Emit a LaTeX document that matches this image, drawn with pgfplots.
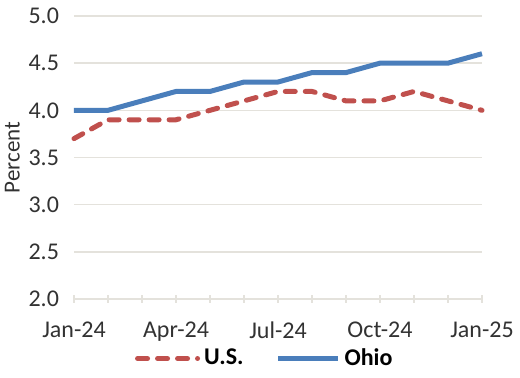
\documentclass[border=0pt]{standalone}
\usepackage{pgfplots}
\pgfplotsset{compat=1.18}
\usepackage{fontspec}
\setmainfont{Carlito}
\definecolor{ohio}{RGB}{74,126,187}
\definecolor{us}{RGB}{192,80,77}
\definecolor{gridc}{RGB}{228,226,220}
\definecolor{txt}{RGB}{50,50,50}
\begin{document}
\begin{tikzpicture}
\begin{axis}[
  at={(0,0)}, anchor=south west,
  scale only axis, width=204pt, height=141.5pt,
  xmin=0, xmax=12, ymin=2, ymax=5,
  xtick={0,...,12},
  xticklabels={Jan-24,,,Apr-24,,,Jul-24,,,Oct-24,,,Jan-25},
  ytick={2,2.5,3,3.5,4,4.5,5},
  yticklabel style={/pgf/number format/fixed,/pgf/number format/fixed zerofill,/pgf/number format/precision=1},
  /pgf/number format/assume math mode=true,
  ymajorgrids, grid style={gridc, line width=0.8pt},
  axis x line*=bottom, axis y line*=left,
  x axis line style={gridc, line width=0.8pt, -},
  y axis line style={draw=none},
  tick align=center, major tick length=4pt,
  xtick style={gridc, line width=0.8pt},
  ytick style={draw=none},
  ticklabel style={font=\fontsize{12}{14}\selectfont, text=txt},
  xticklabel style={yshift=-6pt},
  yticklabel style={xshift=-2pt},
  ylabel={Percent},
  every axis y label/.style={at={(ticklabel cs:0.5,-2.5pt)}, rotate=90, anchor=near ticklabel, font=\fontsize{11.5}{14}\selectfont, text=txt},
  clip=false,
  legend style={at={(0.47,-0.16)}, anchor=north, draw=none, fill=none,
    legend columns=2, font=\bfseries\fontsize{12}{14}\selectfont, inner sep=0pt,
    /tikz/every even column/.append style={column sep=14pt}},
  legend image code/.code={\draw[#1] (0pt,0pt) -- (30pt,0pt);},
]
\addplot[us, line width=2.5pt, dash pattern=on 5pt off 5pt, line cap=round] coordinates {
(0,3.7)(1,3.9)(2,3.9)(3,3.9)(4,4.0)(5,4.1)(6,4.2)(7,4.2)(8,4.1)(9,4.1)(10,4.2)(11,4.1)(12,4.0)};
\addlegendentry{U.S.}
\addplot[ohio, line width=2.5pt] coordinates {
(0,4.0)(1,4.0)(2,4.1)(3,4.2)(4,4.2)(5,4.3)(6,4.3)(7,4.4)(8,4.4)(9,4.5)(10,4.5)(11,4.5)(12,4.6)};
\addlegendentry{Ohio}
\end{axis}
\pgfresetboundingbox
\useasboundingbox (-37pt,-39.5pt) rectangle (223pt,149.5pt);
\end{tikzpicture}
\end{document}
